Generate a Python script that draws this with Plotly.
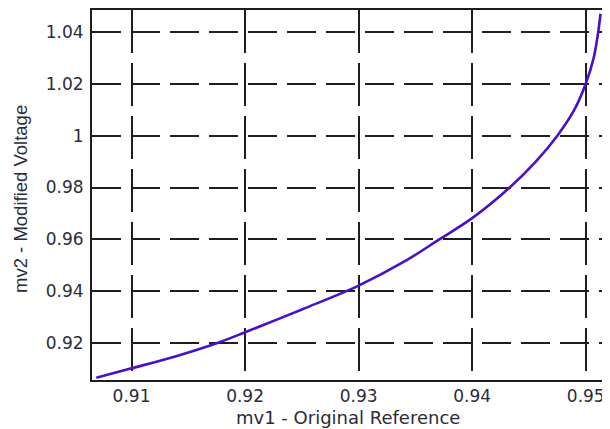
import plotly.graph_objects as go

# Curve values
mv1 = [0.9069, 0.9100, 0.9140, 0.9175, 0.9200, 0.9250, 0.9300, 0.9340,
       0.9371, 0.9400, 0.9433, 0.9456, 0.9475, 0.9490, 0.9500, 0.9507,
       0.9511, 0.9513]
mv2 = [0.9067, 0.9103, 0.9151, 0.9200, 0.9242, 0.9330, 0.9422, 0.9514,
       0.9600, 0.9682, 0.9800, 0.9900, 1.0000, 1.0100, 1.0200, 1.0300,
       1.0400, 1.0470]

x_ticks = [0.91, 0.92, 0.93, 0.94, 0.95]
x_tick_text = ["0.91", "0.92", "0.93", "0.94", "0.95"]
y_ticks = [0.92, 0.94, 0.96, 0.98, 1.00, 1.02, 1.04]
y_tick_text = ["0.92", "0.94", "0.96", "0.98", "1", "1.02", "1.04"]

x_title = "mv1 - Original Reference"
y_title = "mv2 - Modified Voltage"

x_range = [0.90652, 0.95196]
y_range = [0.90581, 1.04844]

fig = go.Figure()
fig.add_trace(go.Scatter(
    x=mv1, y=mv2, mode="lines",
    line=dict(color="#4a10c8", width=2.6, shape="spline", smoothing=1.0),
    showlegend=False, hoverinfo="skip",
))

txt_color = "#2b2b3b"
tick_font = dict(family="DejaVu Sans, sans-serif", size=17, color=txt_color)

fig.update_layout(
    width=602, height=421,
    margin=dict(l=84, r=0, t=0, b=49, pad=0),
    paper_bgcolor="white", plot_bgcolor="white",
    xaxis=dict(
        range=x_range, tickvals=x_ticks, ticktext=x_tick_text,
        showgrid=True, gridcolor="#1e1e1e", gridwidth=1.6, griddash="43px,10px",
        showline=True, linecolor="#1e1e1e", linewidth=2, mirror=True,
        ticks="", zeroline=False,
        tickfont=tick_font,
    ),
    yaxis=dict(
        range=y_range, tickvals=y_ticks, ticktext=y_tick_text,
        showgrid=True, gridcolor="#1e1e1e", gridwidth=1.6, griddash="29px,10px",
        showline=True, linecolor="#1e1e1e", linewidth=2, mirror=True,
        ticks="outside", ticklen=3, tickcolor="rgba(0,0,0,0)", zeroline=False,
        tickfont=tick_font,
    ),
    annotations=[
        dict(text=x_title, xref="paper", yref="paper", x=0.5, y=0,
             xanchor="center", yanchor="middle", xshift=-2, yshift=-37,
             showarrow=False,
             font=dict(family="DejaVu Sans, sans-serif", size=18, color=txt_color)),
        dict(text=y_title, xref="paper", yref="paper", x=0, y=0.5,
             xanchor="center", yanchor="middle", xshift=-72, yshift=-4,
             textangle=-90, showarrow=False,
             font=dict(family="Liberation Sans, Arial, sans-serif", size=18.5, color=txt_color)),
    ],
)

fig.write_html("out.html")
